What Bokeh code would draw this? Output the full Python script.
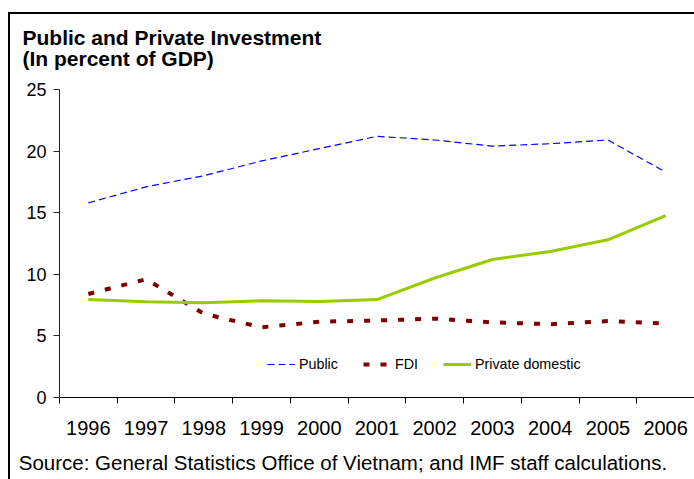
import json
from bokeh.plotting import figure
from bokeh.models import (Range1d, FixedTicker, Legend, LegendItem, Title, BasicTickFormatter,
                          LinearAxis, CustomJSTickFormatter)
from bokeh.embed import file_html
from bokeh.resources import INLINE

years = [1996, 1997, 1998, 1999, 2000, 2001, 2002, 2003, 2004, 2005, 2006]
public = [15.8, 17.1, 18.0, 19.2, 20.2, 21.2, 20.9, 20.4, 20.6, 20.9, 18.3]
fdi = [8.4, 9.6, 6.8, 5.7, 6.15, 6.25, 6.4, 6.1, 5.95, 6.2, 6.0]
private_domestic = [7.95, 7.77, 7.69, 7.85, 7.8, 7.95, 9.7, 11.2, 11.85, 12.8, 14.77]
y_ticks = [0, 5, 10, 15, 20, 25]
title_text = "Public and Private Investment\n(In percent of GDP)"
source_text = "Source: General Statistics Office of Vietnam; and IMF staff calculations."

FONT = "Liberation Sans"
SOURCE_X = 2000.41  # horizontal anchor (data units) used to place the source note

p = figure(width=686, height=479, output_backend="svg", toolbar_location=None,
           x_range=Range1d(years[0] - 0.5, years[-1] + 0.5), y_range=Range1d(0, 25),
           min_border_left=51, min_border_right=0, min_border_top=89, min_border_bottom=82)
p.styles = {"margin-left": "8px",
            "background": "linear-gradient(#000,#000) 0 12px / 100% 2px no-repeat, "
                          "linear-gradient(#000,#000) 0 12px / 2px 100% no-repeat"}
p.border_fill_alpha = 0
p.outline_line_color = None
p.xgrid.visible = False
p.ygrid.visible = False

r_pub = p.line(years, public, line_color="#0000FF", line_width=1.2, line_dash="7 4")
r_fdi = p.line(years, fdi, line_color="#800000", line_width=4, line_dash="6 11")
r_pri = p.line(years, private_domestic, line_color="#99CC00", line_width=3)

xa = p.xaxis[0]
xa.ticker = FixedTicker(ticks=years, minor_ticks=[y - 0.5 for y in years] + [years[-1] + 0.5])
xa.formatter = BasicTickFormatter(use_scientific=False)
xa.major_tick_out = 0
xa.major_tick_in = 0
xa.minor_tick_out = 6
xa.minor_tick_in = 0
xa.minor_tick_line_color = "black"
xa.axis_line_color = "black"
xa.major_label_text_font = FONT
xa.major_label_text_font_size = "20px"
xa.major_label_text_color = "black"
xa.major_label_standoff = 17

ya = p.yaxis[0]
ya.ticker = FixedTicker(ticks=y_ticks)
ya.major_tick_out = 6
ya.major_tick_in = 0
ya.minor_tick_line_color = None
ya.axis_line_color = "#222222"
ya.major_tick_line_color = "#222222"
ya.major_label_text_font = FONT
ya.major_label_text_font_size = "18px"
ya.major_label_text_color = "black"
ya.major_label_standoff = 7

# source note rendered as the single label of an extra, line-less axis below
src_axis = LinearAxis(ticker=FixedTicker(ticks=[SOURCE_X], minor_ticks=[]),
                      formatter=CustomJSTickFormatter(code="return " + json.dumps(source_text) + ";"),
                      axis_line_color=None, major_tick_line_color=None, minor_tick_line_color=None,
                      major_tick_out=0, major_tick_in=0, minor_tick_out=0, minor_tick_in=0,
                      major_label_standoff=13, major_label_text_font=FONT,
                      major_label_text_font_size="20.5px", major_label_text_color="black")
p.add_layout(src_axis, "below")

legend = Legend(items=[LegendItem(label="Public", renderers=[r_pub]),
                       LegendItem(label="FDI", renderers=[r_fdi]),
                       LegendItem(label="Private domestic", renderers=[r_pri])],
                orientation="horizontal", location=(208, 23),
                glyph_width=28, glyph_height=20, label_standoff=4, spacing=25,
                padding=0, margin=0, border_line_color=None, background_fill_alpha=0,
                label_text_font=FONT, label_text_font_size="14.3px", label_text_color="black")
p.add_layout(legend)

p.add_layout(Title(text=title_text, align="left", offset=-37, standoff=36, vertical_align="top",
                   text_font=FONT, text_font_size="21px", text_font_style="bold",
                   text_line_height=0.93, text_color="black"), "above")

open("out.html", "w").write(file_html(p, INLINE))
